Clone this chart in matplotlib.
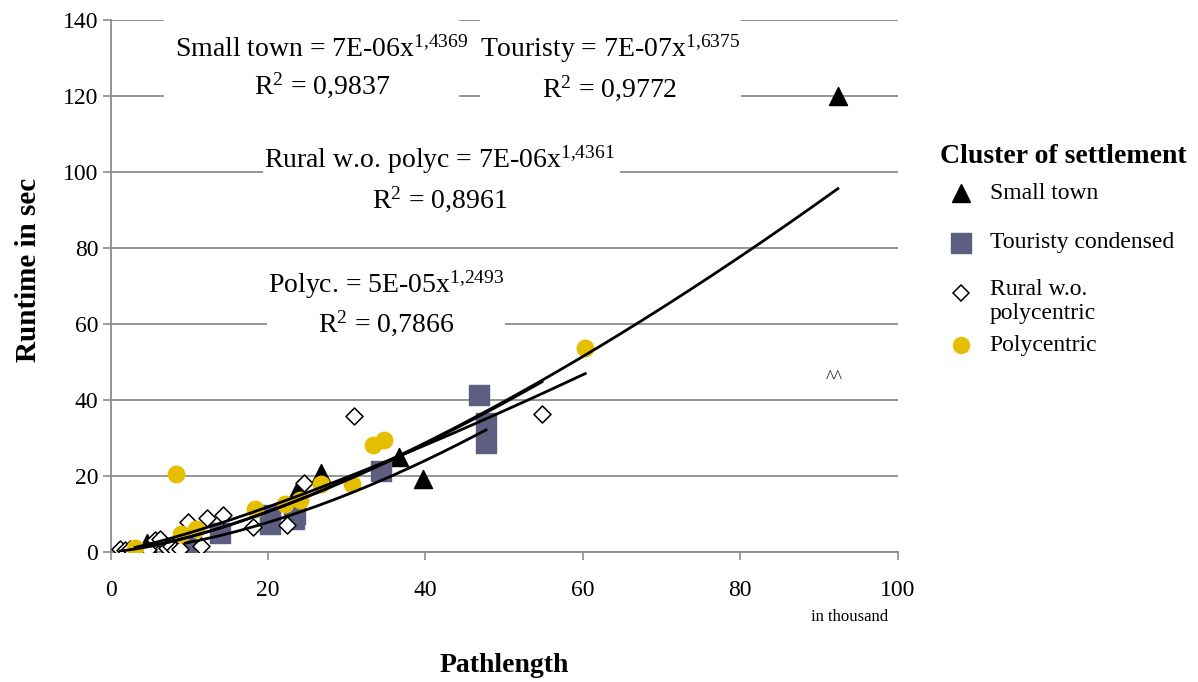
import numpy as np
import matplotlib.pyplot as plt
from matplotlib.lines import Line2D
from matplotlib.patches import Rectangle

plt.rcParams['font.family'] = ['Liberation Serif', 'DejaVu Serif']
plt.rcParams['mathtext.fontset'] = 'custom'
plt.rcParams['mathtext.rm'] = 'Liberation Serif'
plt.rcParams['mathtext.default'] = 'regular'

# data (x = pathlength in thousand, y = runtime in sec)
town_x = [4.6, 23.8, 26.7, 36.6, 39.7, 92.4]
town_y = [2.2, 16.6, 20.6, 25.0, 19.2, 120.0]

tour_x = [9.5, 13.9, 20.3, 20.3, 23.4, 23.3, 34.3, 46.8, 47.7, 47.7]
tour_y = [1.2, 4.8, 9.6, 7.2, 9.9, 8.6, 21.3, 41.2, 33.8, 28.5]

rural_x = [1.2, 1.8, 2.5, 4.8, 5.6, 6.3, 7.1, 7.7, 8.2, 8.8, 9.8, 11.5,
           12.3, 14.3, 18.1, 22.4, 24.5, 30.9, 54.8]
rural_y = [0.8, 0.5, 0.6, 0.7, 3.0, 3.4, 1.1, 1.6, 0.5, 0.6, 7.9, 1.6,
           9.0, 9.7, 6.4, 7.1, 18.2, 35.8, 36.2]

poly_x = [3.1, 8.3, 8.9, 10.8, 18.3, 22.1, 24.0, 26.7, 30.6, 33.3, 34.7, 60.3]
poly_y = [0.9, 20.4, 4.6, 6.1, 11.3, 12.5, 13.7, 17.8, 17.9, 28.0, 29.4, 53.5]

# power trendlines as printed on the chart (x in raw units)
fit_names = ['Small town', 'Touristy', 'Rural w.o. polyc', 'Polyc.']
fit_coef = [7e-06, 7e-07, 7e-06, 5e-05]
fit_exp = [1.4369, 1.6375, 1.4361, 1.2493]
fit_r2 = ['0,9837', '0,9772', '0,8961', '0,7866']

yellow = '#E6BE00'
slate = '#5E5F80'
grey = '#8c8c8c'

fig = plt.figure(figsize=(11.98, 6.82), dpi=100)
ax = fig.add_axes([0.0924, 0.191, 0.6569, 0.780])

ax.scatter(town_x, town_y, marker='^', s=169, color='black', zorder=3)
ax.scatter(tour_x, tour_y, marker='s', s=207, color=slate, zorder=3)
ax.scatter(rural_x, rural_y, marker='D', s=75, facecolor='white',
           edgecolor='black', linewidth=1.1, zorder=3)
ax.scatter(poly_x, poly_y, marker='o', s=140, color=yellow, zorder=3)

# trendlines over the data range of each cluster
for xs, c, e in zip([town_x, tour_x, rural_x, poly_x], fit_coef, fit_exp):
    xx = np.linspace(min(xs), max(xs), 200)
    ax.plot(xx, c * (xx * 1000) ** e, color='black', lw=2, zorder=4)

ax.set_xlim(0, 100)
ax.set_ylim(0, 140)
ax.set_xticks(range(0, 101, 20))
ax.set_yticks(range(0, 141, 20))
ax.tick_params(labelsize=17, length=6, color=grey, width=1.2)
ax.tick_params(axis='x', pad=14)
ax.tick_params(axis='y', pad=3)
ax.grid(axis='y', color=grey, lw=1.3)
ax.set_axisbelow(True)
for side in ['top', 'right']:
    ax.spines[side].set_visible(False)
for side in ['left', 'bottom']:
    ax.spines[side].set_color(grey)
    ax.spines[side].set_linewidth(1.3)

# equation labels, each on a white label box (x0, x1, y0, y1)
label_pos = [(26.8, 127.3), (63.4, 127.3), (41.8, 98.1), (35.0, 65.4)]
label_box = [(6.8, 44.3, 117.5, 142), (46.9, 80.1, 117.5, 142),
             (19.4, 64.7, 88, 108), (19.9, 50.1, 55, 76)]
for name, c, e, r2, (lx, ly), (x0, x1, y0, y1) in zip(
        fit_names, fit_coef, fit_exp, fit_r2, label_pos, label_box):
    ax.add_patch(Rectangle((x0, y0), x1 - x0, y1 - y0, facecolor='white',
                           edgecolor='none', zorder=1, clip_on=False))
    mant, ex = f'{c:.0E}'.split('E')
    ctxt = f'{mant}E{ex[0]}{ex[1:].zfill(2)}'
    etxt = f'{e:.4f}'.replace('.', '{,}')
    txt = f'{name} = {ctxt}x$^{{{etxt}}}$\nR$^2$ = {r2}'
    ax.text(lx, ly, txt, fontsize=20, ha='center', va='center',
            multialignment='center', linespacing=1.35, zorder=5)

ax.text(92, 45.5, '^^', fontsize=13, ha='center', va='center', color='#222222')
ax.text(0.939, -0.123, 'in thousand', transform=ax.transAxes, fontsize=12,
        ha='center', va='center')

fig.text(0.4207, 0.024, 'Pathlength', fontsize=20, fontweight='bold',
         ha='center', va='center')
fig.text(0.0234, 0.604, 'Runtime in sec', fontsize=21, fontweight='bold',
         ha='center', va='center', rotation=90)

# legend
fig.text(0.785, 0.770, 'Cluster of settlement', fontsize=20,
         fontweight='bold', ha='left', va='center')
leg_labels = ['Small town', 'Touristy condensed', 'Rural w.o.\npolycentric', 'Polycentric']
leg_marks = [dict(marker='^', markersize=13, color='black'),
             dict(marker='s', markersize=14, color=slate),
             dict(marker='D', markersize=8.5, markerfacecolor='white',
                  markeredgecolor='black', markeredgewidth=1.1),
             dict(marker='o', markersize=11.5, color=yellow)]
leg_y = [0.717, 0.644, 0.570, 0.494]
for lab, mk, y in zip(leg_labels, leg_marks, leg_y):
    fig.add_artist(Line2D([0.802], [y], linestyle='none', **mk))
    if '\n' in lab:
        fig.text(0.826, y + 0.021, lab, fontsize=17, ha='left', va='top',
                 linespacing=1.2)
    else:
        fig.text(0.826, y, lab, fontsize=17, ha='left', va='center')

fig.savefig('out.png', dpi=100)
